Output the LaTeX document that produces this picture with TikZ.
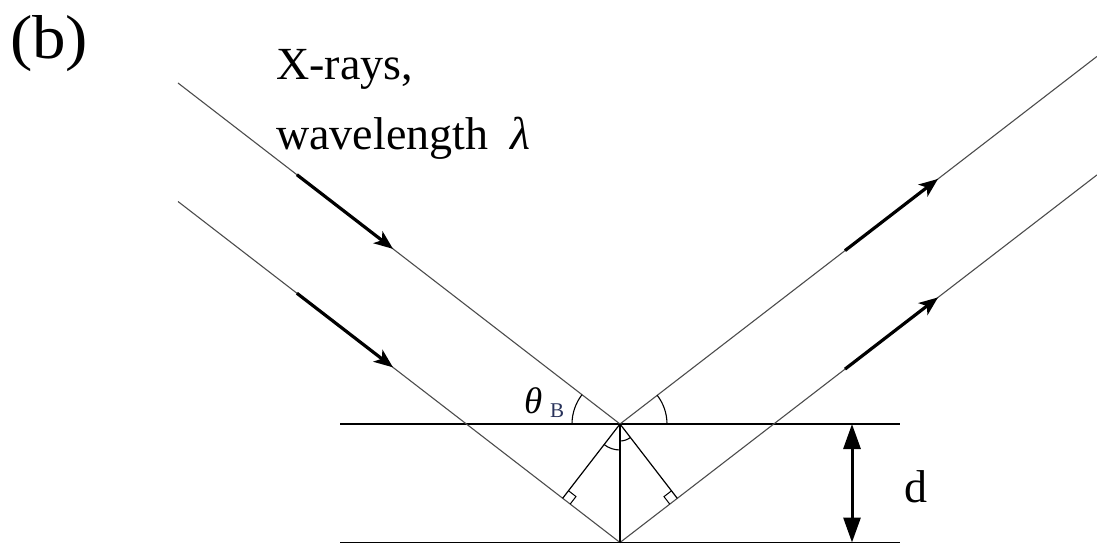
\documentclass[tikz,border=0pt]{standalone}
\usepackage{fontspec}
\setmainfont{Liberation Serif}
\usetikzlibrary{arrows.meta,calc}
\tikzset{
  ray/.style={draw=black!70, line width=1.1pt},
  beam/.style={draw=black, line width=3.2pt, -{Stealth[length=19pt,width=15pt,inset=5pt]}},
  plane/.style={draw=black, line width=1.4pt},
  aux/.style={draw=black, line width=1.2pt},
  anglearc/.style={draw=black, line width=1.1pt},
  txt/.style={inner sep=0pt, anchor=base west},
  dim/.style={draw=black, line width=3pt, {Triangle[length=25pt,width=17pt]}-{Triangle[length=25pt,width=17pt]}}
}
\begin{document}
\begin{tikzpicture}[x=1pt,y=1pt]
\useasboundingbox (0,0) rectangle (1097,544);
% points
\coordinate (P) at (620,120);
\coordinate (Q) at (620,1.5);
\coordinate (A1) at (178,461);
\coordinate (A2) at (178,342.5);
\coordinate (B1) at (1097,487.6);
\coordinate (B2) at (1097,369.1);
\coordinate (L1) at (340,120);
\coordinate (R1) at (900,120);
\coordinate (L2) at (340,1.5);
\coordinate (R2) at (900,1.5);
% planes
\draw[plane] (L1) -- (R1);
\draw[plane] (L2) -- (R2);
% rays
\draw[ray] (A1) -- (P) -- (B1);
\draw[ray] (A2) -- (Q) -- (B2);
% beam arrows
\draw[beam] ($(A1)!0.269!(P)$) -- ($(A1)!0.4864!(P)$);
\draw[beam] ($(A2)!0.269!(Q)$) -- ($(A2)!0.4864!(Q)$);
\draw[beam] ($(P)!0.4717!(B1)$) -- ($(P)!0.6667!(B1)$);
\draw[beam] ($(Q)!0.4717!(B2)$) -- ($(Q)!0.6667!(B2)$);
% perpendiculars
\coordinate (F1) at ($(A2)!(P)!(Q)$);
\coordinate (F2) at ($(Q)!(P)!(B2)$);
\draw[aux] (P) -- (F1);
\draw[aux] (P) -- (F2);
\draw[aux] (P) -- (Q);
% right-angle marks
\coordinate (F1a) at ($(F1)!9.5pt!(P)$);
\coordinate (F1b) at ($(F1)!9.5pt!(Q)$);
\draw[aux, line width=1pt] (F1a) -- ($(F1a)+(F1b)-(F1)$) -- (F1b);
\coordinate (F2a) at ($(F2)!9.5pt!(P)$);
\coordinate (F2b) at ($(F2)!9.5pt!(Q)$);
\draw[aux, line width=1pt] (F2a) -- ($(F2a)+(F2b)-(F2)$) -- (F2b);
% angle arcs
\draw[anglearc] ($(P)+(142.35:48)$) arc[start angle=142.35, end angle=180, radius=48];
\draw[anglearc] ($(P)+(0:47)$) arc[start angle=0, end angle=37.65, radius=47];
\draw[anglearc] ($(P)+(232.2:26)$) arc[start angle=232.2, end angle=270, radius=26];
\draw[anglearc] ($(P)+(270:17)$) arc[start angle=270, end angle=307.8, radius=17];
% spacing d
\coordinate (D1) at (852,120);
\coordinate (D2) at (852,1.5);
\draw[dim] (D1) -- (D2);
% texts
\node[txt, font=\fontsize{62}{70}\selectfont] (lb) at (10,485) {\scalebox{1.08}[1]{(b)}};
\node[txt, font=\fontsize{46}{50}\selectfont] (t1) at (276,464) {X-rays,};
\node[txt, font=\fontsize{46}{50}\selectfont] (t2) at (276,394) {wavelength\hspace{22pt}\itshape λ};
\node[txt, font=\fontsize{37}{40}\selectfont\itshape] (th) at (524,131) {θ};
\node[txt, font=\fontsize{21}{24}\selectfont, text={rgb,255:red,40;green,50;blue,90}] (thb) at (550,126.5) {B};
\node[txt, font=\fontsize{46}{50}\selectfont] (dd) at (904,42) {d};
\end{tikzpicture}
\end{document}
